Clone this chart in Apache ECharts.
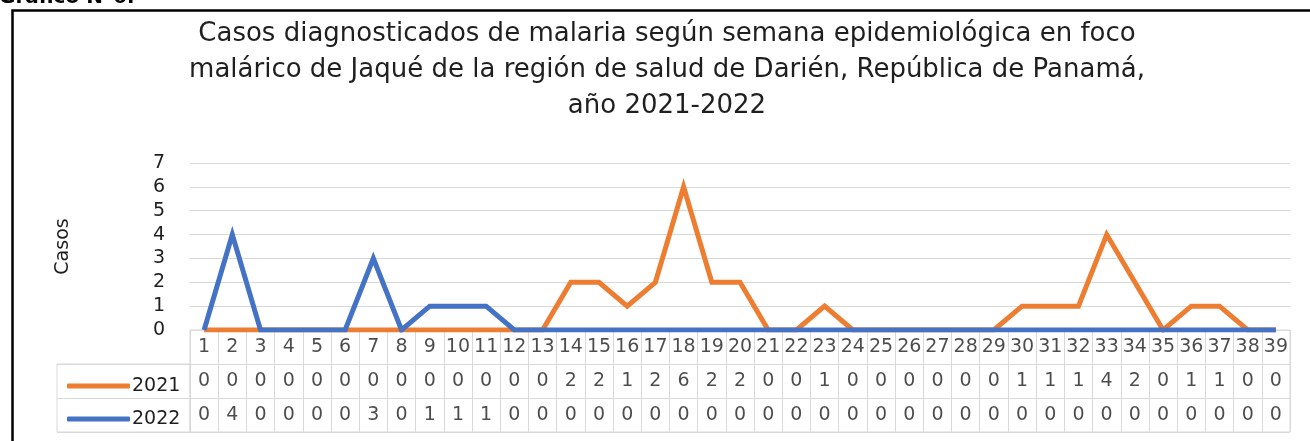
<!DOCTYPE html>
<html>
<head>
<meta charset="utf-8">
<script src="https://cdn.jsdelivr.net/npm/echarts@6/dist/echarts.min.js"></script>
<style>
  html, body { margin: 0; padding: 0; background: #fff; }
  #chart { width: 1310px; height: 441px; }
</style>
</head>
<body>
<div id="chart"></div>
<script>
// Epidemiological weeks (x categories / header row of the data table)
const weeks = ['1','2','3','4','5','6','7','8','9','10','11','12','13','14','15','16','17','18','19','20',
  '21','22','23','24','25','26','27','28','29','30','31','32','33','34','35','36','37','38','39'];

// Malaria cases per week
const cases2021 = [0,0,0,0,0,0,0,0,0,0,0,0,0,2,2,1,2,6,2,2,0,0,1,0,0,0,0,0,0,1,1,1,4,2,0,1,1,0,0];
const cases2022 = [0,4,0,0,0,0,3,0,1,1,1,0,0,0,0,0,0,0,0,0,0,0,0,0,0,0,0,0,0,0,0,0,0,0,0,0,0,0,0];

const seriesNames = ['2021', '2022'];
const yTicks = { min: 0, max: 7, interval: 1 };

const titleText = 'Casos diagnosticados de malaria según semana epidemiológica en foco\n' +
  'malárico de Jaqué de la región de salud de Darién, República de Panamá,\n' +
  'año 2021-2022';

const FONT = 'DejaVu Sans';
const TEXT = '#1f1f1f';
const GRID_GRAY = '#d9d9d9';
const ORANGE = '#ED7D31';
const BLUE = '#4472C4';

// rows of the data table: header (weeks), then one row per series
const tableRows = ['semana', seriesNames[0], seriesNames[1]];
const tableCells = [];
weeks.forEach((w, i) => {
  tableCells.push([i, tableRows[0], w]);
  tableCells.push([i, tableRows[1], String(cases2021[i])]);
  tableCells.push([i, tableRows[2], String(cases2022[i])]);
});

const chart = echarts.init(document.getElementById('chart'), null, { renderer: 'canvas' });

chart.setOption({
  animation: false,
  backgroundColor: '#fff',
  textStyle: { fontFamily: FONT },
  title: {
    text: titleText,
    left: 662,
    top: 11,
    textAlign: 'center',
    textStyle: { fontFamily: FONT, fontSize: 26, fontWeight: 'normal', lineHeight: 36, color: TEXT }
  },
  legend: {
    data: seriesNames,
    orient: 'vertical',
    left: 62,
    top: 370,
    itemGap: 11,
    itemWidth: 63,
    itemHeight: 5,
    icon: 'roundRect',
    textStyle: { fontFamily: FONT, fontSize: 19, lineHeight: 22, color: TEXT, padding: [0, 0, 0, -3] }
  },
  grid: [
    // plot area
    { left: 190, right: 20, top: 163, height: 167 },
    // data table (weeks + values)
    { left: 190, right: 20, top: 330, height: 102, show: true, borderColor: GRID_GRAY, borderWidth: 1 },
    // legend cells of the data table
    { left: 57, width: 133, top: 364, height: 68, show: true, borderColor: GRID_GRAY, borderWidth: 1 }
  ],
  xAxis: [
    {
      gridIndex: 0, type: 'category', data: weeks, boundaryGap: true,
      axisLine: { show: false }, axisTick: { show: false }, axisLabel: { show: false }
    },
    {
      gridIndex: 1, type: 'category', data: weeks, boundaryGap: true,
      axisLine: { show: false }, axisTick: { show: false }, axisLabel: { show: false },
      splitLine: { show: true, interval: 0, lineStyle: { color: GRID_GRAY, width: 1 } }
    },
    {
      gridIndex: 2, type: 'value', min: 0, max: 1,
      axisLine: { show: false }, axisTick: { show: false }, axisLabel: { show: false }, splitLine: { show: false }
    }
  ],
  yAxis: [
    {
      gridIndex: 0, type: 'value', min: yTicks.min, max: yTicks.max, interval: yTicks.interval,
      name: 'Casos', nameLocation: 'middle', nameGap: 117, nameRotate: 90,
      nameTextStyle: { fontFamily: FONT, fontSize: 19, color: TEXT },
      axisLine: { show: false }, axisTick: { show: false },
      axisLabel: { fontFamily: FONT, fontSize: 19, color: TEXT, margin: 25 },
      splitLine: { show: true, lineStyle: { color: GRID_GRAY, width: 1 } }
    },
    {
      gridIndex: 1, type: 'category', data: tableRows, inverse: true, boundaryGap: true,
      axisLine: { show: false }, axisTick: { show: false }, axisLabel: { show: false },
      splitLine: { show: true, interval: 0, lineStyle: { color: GRID_GRAY, width: 1 } }
    },
    {
      gridIndex: 2, type: 'category', data: seriesNames, inverse: true, boundaryGap: true,
      axisLine: { show: false }, axisTick: { show: false }, axisLabel: { show: false },
      splitLine: { show: true, interval: 0, lineStyle: { color: GRID_GRAY, width: 1 } }
    }
  ],
  series: [
    {
      name: seriesNames[0], type: 'line', xAxisIndex: 0, yAxisIndex: 0,
      data: cases2021, showSymbol: false, symbol: 'none', color: ORANGE,
      lineStyle: { width: 5, color: ORANGE, join: 'miter' }, z: 2
    },
    {
      name: seriesNames[1], type: 'line', xAxisIndex: 0, yAxisIndex: 0,
      data: cases2022, showSymbol: false, symbol: 'none', color: BLUE,
      lineStyle: { width: 5, color: BLUE, join: 'miter' }, z: 3
    },
    {
      // text of the data table cells
      name: 'tabla', type: 'scatter', xAxisIndex: 1, yAxisIndex: 1,
      data: tableCells, symbolSize: 1, itemStyle: { color: 'transparent' },
      silent: true,
      label: {
        show: true, position: 'inside', formatter: p => p.value[2],
        fontFamily: FONT, fontSize: 19, color: TEXT
      }
    }
  ],
  graphic: [
    {
      type: 'rect', left: 10, top: 8, silent: true, z: 100,
      shape: { width: 1330, height: 460 },
      style: { fill: 'none', stroke: '#000', lineWidth: 2.5 }
    },
    {
      type: 'text', left: -1, top: -12, silent: true,
      style: { text: 'Gráfico N°6:', fontFamily: FONT, fontWeight: 'bold', fontSize: 20, fill: '#000' }
    }
  ]
});
</script>
</body>
</html>
